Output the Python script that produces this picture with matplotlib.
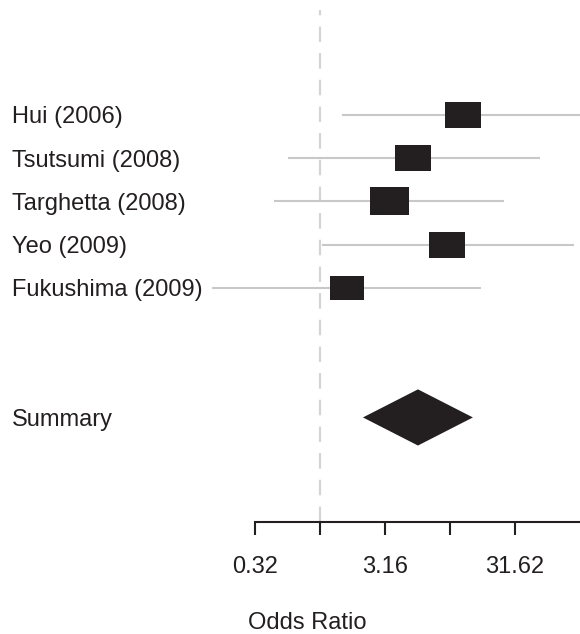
import matplotlib.pyplot as plt
import matplotlib.transforms as mtransforms
import numpy as np

studies = ["Hui (2006)", "Tsutsumi (2008)", "Targhetta (2008)", "Yeo (2009)", "Fukushima (2009)"]
odds = [12.6, 5.2, 3.4, 9.5, 1.6]
ci_low = [1.48, 0.57, 0.44, 1.04, 0.148]
ci_high = [150.0, 49.0, 26.0, 90.0, 17.3]
weights = [0.81, 0.85, 1.0, 0.85, 0.72]

summary_label = "Summary"
summary_or = 5.67
summary_low = 2.14
summary_high = 15.0

tick_vals = 10 ** np.array([-0.5, 0.0, 0.5, 1.0, 1.5])
tick_labels = ["0.32", "", "3.16", "", "31.62"]

plt.rcParams["font.family"] = ["Liberation Sans", "DejaVu Sans"]
dark = "#231f20"
grey = "#c8c8c8"

fig = plt.figure(figsize=(5.8, 6.34), dpi=100)
ax = fig.add_axes([200 / 580, 1 - 522 / 634, 380 / 580, 512 / 634])
ax.set_xscale("log")
ax.set_xlim(10 ** (-120 / 130), 100)
ax.set_ylim(9.42, -2.43)

# reference line at OR = 1
ax.axvline(1, color="#d4d4d4", lw=1.6, dashes=(7, 5), zorder=1)

rows = np.arange(len(studies))
box = [(-1.4, -1), (1.4, -1), (1.4, 1), (-1.4, 1), (-1.4, -1)]
for y, name, o, lo, hi, w in zip(rows, studies, odds, ci_low, ci_high, weights):
    ax.plot([lo, hi], [y, y], color=grey, lw=1.5, solid_capstyle="butt", zorder=2)
    ax.plot([o], [y], marker=box, markersize=39 * 0.72 * np.sqrt(w),
            color=dark, markeredgewidth=0, linestyle="none", zorder=3)

sum_y = 7
ax.fill([summary_low, summary_or, summary_high, summary_or],
        [sum_y, sum_y - 0.65, sum_y, sum_y + 0.65], color=dark, lw=0, zorder=3)

# row labels on the left edge of the figure
trans = mtransforms.blended_transform_factory(fig.transFigure, ax.transData)
for y, name in list(zip(rows, studies)) + [(sum_y, summary_label)]:
    ax.annotate(name, xy=(12 / 580, y), xycoords=trans, xytext=(0, -6.1),
                textcoords="offset points", ha="left", va="baseline",
                fontsize=17, color=dark, annotation_clip=False)

for side in ["top", "right", "left"]:
    ax.spines[side].set_visible(False)
ax.spines["bottom"].set_bounds(10 ** -0.5, 100)
ax.spines["bottom"].set_linewidth(1.5)
ax.spines["bottom"].set_color(dark)
ax.set_yticks([])
ax.set_xticks(tick_vals)
ax.set_xticklabels(tick_labels)
ax.xaxis.set_minor_locator(plt.NullLocator())
ax.tick_params(axis="x", length=9.4, width=1.5, color=dark, pad=15,
               labelsize=17, labelcolor=dark)

fig.text(307 / 580, 1 - 629 / 634, "Odds Ratio", ha="center", va="baseline",
         fontsize=17, color=dark)

fig.savefig("out.png", dpi=100)
